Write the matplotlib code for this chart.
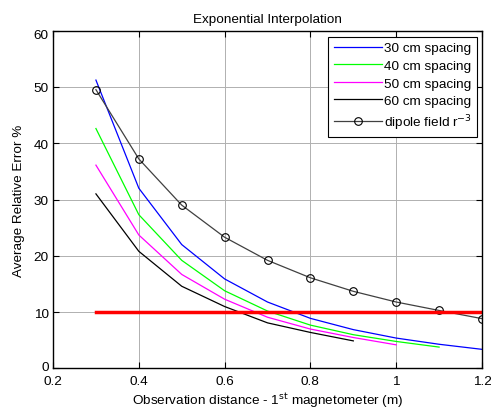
import matplotlib
matplotlib.use('Agg')
import matplotlib.pyplot as plt
import matplotlib.transforms as mtransforms

plt.rcParams['font.family'] = ['Liberation Sans', 'DejaVu Sans']

# data
x = [0.3, 0.4, 0.5, 0.6, 0.7, 0.8, 0.9, 1.0, 1.1, 1.2]
err_30 = [51.2, 32.0, 22.0, 15.9, 11.8, 8.9, 6.9, 5.4, 4.3, 3.4]
err_40 = [42.6, 27.3, 19.2, 13.8, 10.2, 7.7, 6.0, 4.8, 3.8]
err_50 = [36.1, 23.7, 16.7, 12.3, 9.1, 7.0, 5.5, 4.2]
err_60 = [31.0, 20.8, 14.6, 11.0, 8.1, 6.4, 4.9]
dipole = [49.5, 37.2, 29.0, 23.3, 19.2, 16.1, 13.7, 11.8, 10.3, 8.85]
threshold = 10

FS = 9.7

fig = plt.figure(figsize=(4.91, 4.14), dpi=100)
ax = fig.add_axes([0.108, 0.1075, 0.8737, 0.8164])

ax.plot(x[:len(err_30)], err_30, color='#0000ff', lw=0.9, label='30 cm spacing')
ax.plot(x[:len(err_40)], err_40, color='#00ff00', lw=0.9, label='40 cm spacing')
ax.plot(x[:len(err_50)], err_50, color='#ff00ff', lw=0.9, label='50 cm spacing')
ax.plot(x[:len(err_60)], err_60, color='black', lw=0.9, label='60 cm spacing')
ax.plot(x, dipole, color='#404040', lw=0.9, marker='o', ms=5.5, mfc='none',
        mec='black', mew=0.8, label='dipole field r$^{-3}$')
ax.plot([x[0], x[-1]], [threshold, threshold], color='red', lw=2.5)

ax.set_xlim(0.2, 1.2)
ax.set_ylim(0, 60)
ax.set_xticks([0.2, 0.4, 0.6, 0.8, 1.0, 1.2])
ax.set_xticklabels(['0.2', '0.4', '0.6', '0.8', '1', '1.2'])
ax.set_yticks(range(0, 61, 10))
ax.grid(True, color='#b0b0b0', lw=0.7)
ax.tick_params(direction='in', top=True, right=True, labelsize=FS, length=4, width=0.8)
ax.tick_params(axis='x', pad=5)
ax.tick_params(axis='y', pad=3)
# matlab pulls the end y tick labels slightly inside the axes
ylbls = ax.get_yticklabels()
up = mtransforms.ScaledTranslation(0, 3 / 100, fig.dpi_scale_trans)
down = mtransforms.ScaledTranslation(0, -3 / 100, fig.dpi_scale_trans)
ylbls[0].set_transform(ylbls[0].get_transform() + up)
ylbls[-1].set_transform(ylbls[-1].get_transform() + down)
for s in ax.spines.values():
    s.set_linewidth(1.0)

ax.set_title('Exponential Interpolation', fontsize=FS, pad=6)
ax.set_xlabel('Observation distance - 1$^{\\rm st}$ magnetometer (m)', fontsize=FS, labelpad=2)
ax.set_ylabel('Average Relative Error %', fontsize=FS, labelpad=6)

leg = ax.legend(loc='upper right', bbox_to_anchor=(0.988, 0.982), borderaxespad=0,
                fontsize=FS, fancybox=False, framealpha=1, edgecolor='black',
                handlelength=3.6, handletextpad=0.1, borderpad=0.4, labelspacing=0.38)
leg.get_frame().set_linewidth(0.8)

fig.savefig('out.png', dpi=100, facecolor='white')
